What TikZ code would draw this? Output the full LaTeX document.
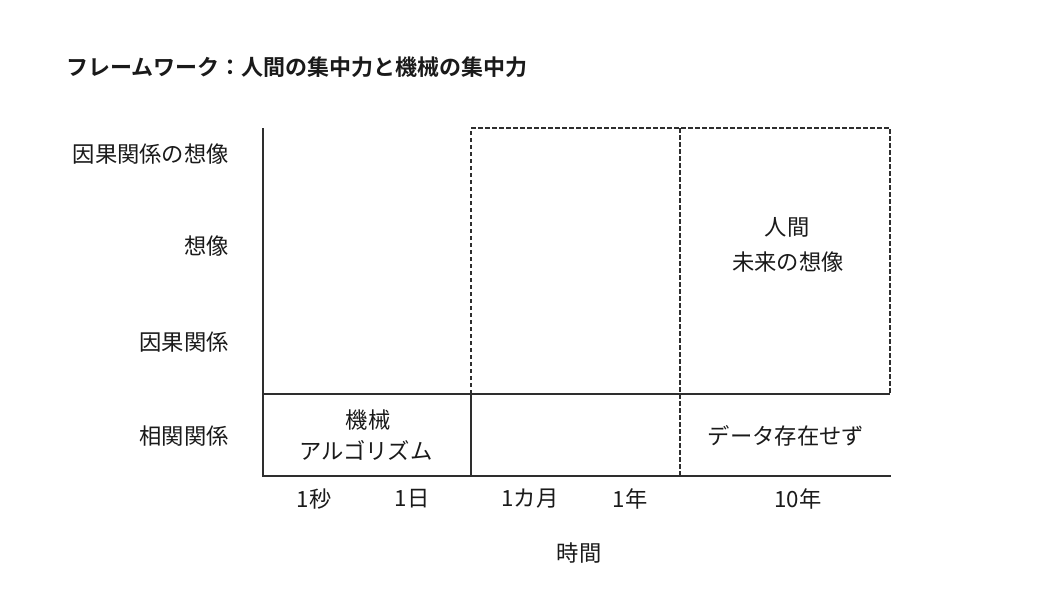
\documentclass[tikz,border=0pt]{standalone}
\usepackage{fontspec}
\setmainfont{Noto Sans CJK JP}[BoldFont={Noto Sans CJK JP Bold}]
\definecolor{ink}{HTML}{1A1A1A}
\definecolor{linec}{HTML}{2E2E2E}
\begin{document}
\begin{tikzpicture}[x=1pt,y=-1pt,
  lbl/.style={inner sep=0pt,text=ink,font=\fontsize{22.3}{27}\selectfont},
  ylbl/.style={lbl,anchor=east},
  ttl/.style={inner sep=0pt,text=ink,anchor=west,font=\fontsize{22}{26}\selectfont\bfseries},
  solidln/.style={draw=linec,line width=1.4pt},
  dashln/.style={draw=linec,line width=1.4pt,dash pattern=on 4.5pt off 2.5pt}]
\useasboundingbox[fill=white] (0,0) rectangle (1040,607);
% grid coordinates
\coordinate (tl) at (263,128);
\coordinate (ml) at (263,394);
\coordinate (bl) at (263,476);
\coordinate (t1) at (471,128);
\coordinate (m1) at (471,394);
\coordinate (b1) at (471,476);
\coordinate (t2) at (680,128);
\coordinate (b2) at (680,476);
\coordinate (tr) at (890,128);
\coordinate (mr) at (890,394);
\coordinate (br) at (891,476);
% solid lines
\draw[solidln] (tl) -- (bl) -- (br);
\draw[solidln] (ml) -- (mr);
\draw[solidln] (m1) -- (b1);
% dashed lines
\draw[dashln] (m1) -- (t1) -- (tr) -- (mr);
\draw[dashln] (t2) -- (b2);
% title
\node[ttl] (title) at (66,67) {フレームワーク：人間の集中力と機械の集中力};
% y labels
\node[ylbl] (y1) at (229,154) {因果関係の想像};
\node[ylbl] (y2) at (229,246) {想像};
\node[ylbl] (y3) at (229,342) {因果関係};
\node[ylbl] (y4) at (229,436) {相関関係};
% x labels
\node[lbl] (x1) at (314,499) {1秒};
\node[lbl] (x2) at (412,499) {1日};
\node[lbl] (x3) at (530,499) {1カ月};
\node[lbl] (x4) at (630,499) {1年};
\node[lbl] (x5) at (798,499) {10年};
\node[lbl] (xt) at (579,553) {時間};
% cell texts
\node[lbl] (h1) at (787,227) {人間};
\node[lbl] (h2) at (788,262) {未来の想像};
\node[lbl] (m1t) at (368,420) {機械};
\node[lbl] (m2t) at (366,450) {アルゴリズム};
\node[lbl] (nd) at (786,436) {データ存在せず};
\end{tikzpicture}
\end{document}
